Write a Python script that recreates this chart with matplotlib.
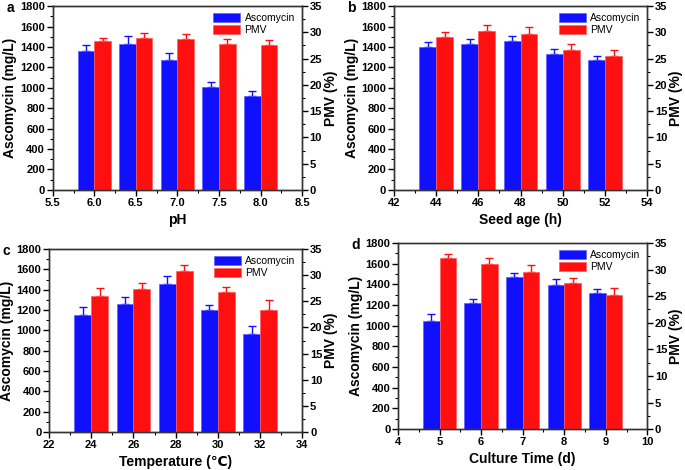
import numpy as np
import matplotlib.pyplot as plt
from matplotlib.ticker import MultipleLocator, AutoMinorLocator

plt.rcParams['font.family'] = ['Liberation Sans', 'DejaVu Sans']
plt.rcParams['font.weight'] = 'bold'

# panel a - pH
ph = [6.0, 6.5, 7.0, 7.5, 8.0]
ph_asc = [1356, 1428, 1275, 1004, 920]
ph_asc_err = [59, 75, 62, 53, 45]
ph_pmv = [28.3, 28.85, 28.8, 27.8, 27.5]
ph_pmv_err = [0.7, 1.05, 0.8, 0.9, 1.1]

# panel b - seed age
seed = [44, 46, 48, 50, 52]
seed_asc = [1399, 1425, 1457, 1330, 1272]
seed_asc_err = [52, 49, 46, 46, 42]
seed_pmv = [29.2, 30.2, 29.7, 26.7, 25.5]
seed_pmv_err = [0.8, 1.2, 1.4, 1.0, 1.1]

# panel c - temperature
temp = [24, 26, 28, 30, 32]
temp_asc = [1153, 1264, 1453, 1205, 967]
temp_asc_err = [75, 66, 78, 49, 75]
temp_pmv = [26.0, 27.3, 30.9, 26.8, 23.4]
temp_pmv_err = [1.5, 1.2, 1.1, 0.9, 1.8]

# panel d - culture time
days = [5, 6, 7, 8, 9]
day_asc = [1048, 1219, 1471, 1394, 1316]
day_asc_err = [68, 42, 42, 61, 39]
day_pmv = [32.1, 31.1, 29.6, 27.5, 25.3]
day_pmv_err = [0.8, 1.1, 1.3, 1.0, 1.2]

panels = [
    ('a', ph, ph_asc, ph_asc_err, ph_pmv, ph_pmv_err, 0.2, (5.5, 8.5), 0.5, 'pH',
     [0.077, 0.596, 0.364, 0.391]),
    ('b', seed, seed_asc, seed_asc_err, seed_pmv, seed_pmv_err, 0.8, (42, 54), 2, 'Seed age (h)',
     [0.575, 0.596, 0.370, 0.391]),
    ('c', temp, temp_asc, temp_asc_err, temp_pmv, temp_pmv_err, 0.8, (22, 34), 2, 'Temperature (\u2103)',
     [0.0715, 0.081, 0.370, 0.389]),
    ('d', days, day_asc, day_asc_err, day_pmv, day_pmv_err, 0.4, (4, 10), 1, 'Culture Time (d)',
     [0.581, 0.087, 0.364, 0.396]),
]

fig = plt.figure(figsize=(6.85, 4.70), dpi=100)
blue = '#1010ff'
red = '#ff1010'

for lab, x, asc, asc_e, pmv, pmv_e, w, xlim, xstep, xlabel, pos in panels:
    ax = fig.add_axes(pos)
    ax2 = ax.twinx()
    x = np.array(x, dtype=float)
    b1 = ax.bar(x - w / 2, asc, w, color=blue, edgecolor='#6060ff', linewidth=0.5, zorder=2)
    ax.errorbar(x - w / 2, asc, yerr=[np.zeros(5), asc_e], fmt='none', ecolor=blue,
                elinewidth=1, capsize=3, capthick=1, zorder=1)
    b2 = ax2.bar(x + w / 2, pmv, w, color=red, edgecolor='#ff6060', linewidth=0.5, zorder=2)
    ax2.errorbar(x + w / 2, pmv, yerr=[np.zeros(5), pmv_e], fmt='none', ecolor=red,
                 elinewidth=1, capsize=3, capthick=1, zorder=1)

    ax.set_xlim(*xlim)
    ax.set_ylim(0, 1800)
    ax2.set_ylim(0, 35)
    ax.xaxis.set_major_locator(MultipleLocator(xstep))
    ax.xaxis.set_minor_locator(AutoMinorLocator(2))
    ax.yaxis.set_major_locator(MultipleLocator(200))
    ax.yaxis.set_minor_locator(AutoMinorLocator(2))
    ax2.yaxis.set_major_locator(MultipleLocator(5))
    ax2.yaxis.set_minor_locator(AutoMinorLocator(2))
    if xstep == 0.5:
        ax.set_xticklabels(['%.1f' % t for t in ax.get_xticks()])

    for a in (ax, ax2):
        a.tick_params(axis='both', which='major', direction='out', length=4, width=1,
                      labelsize=8, pad=1.5)
        a.tick_params(axis='both', which='minor', direction='out', length=2, width=0.8)
        for s in a.spines.values():
            s.set_linewidth(1)
            s.set_color('#333333')
    ax.tick_params(axis='x', top=False)

    ax.set_xlabel(xlabel, fontsize=10, fontweight='bold', labelpad=4)
    ax.set_ylabel('Ascomycin (mg/L)', fontsize=10, fontweight='bold', labelpad=2)
    ax2.set_ylabel('PMV (%)', fontsize=10, fontweight='bold', labelpad=1)

    ax2.legend([b1, b2], ['Ascomycin', 'PMV'], loc='upper right',
               frameon=False, handlelength=2.6, handleheight=0.9, borderaxespad=0.3,
               labelspacing=0.15, handletextpad=0.4,
               prop={'weight': 'normal', 'size': 7.5})

    fig.text(pos[0] - 0.068, pos[1] + pos[3] - 0.005, lab, fontsize=10, fontweight='bold',
             va='center', ha='left')

fig.savefig('out.png', dpi=100)
